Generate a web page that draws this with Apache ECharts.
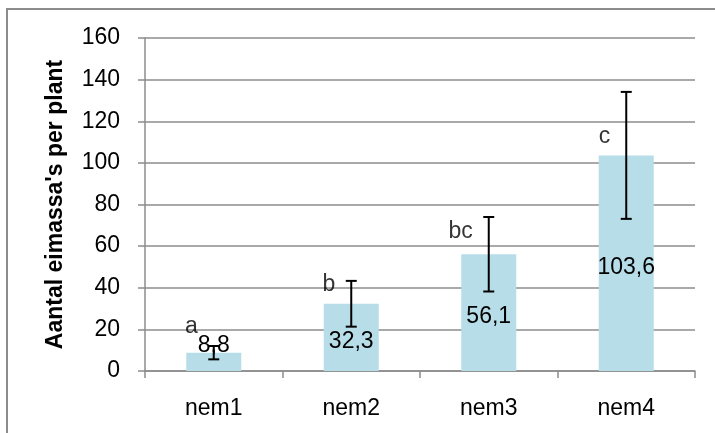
<!DOCTYPE html>
<html>
<head>
<meta charset="utf-8">
<script src="https://cdn.jsdelivr.net/npm/echarts@6/dist/echarts.min.js"></script>
<style>
html,body{margin:0;padding:0;background:#fff;}
#frame{position:absolute;left:6px;top:8px;width:709px;height:425px;border-left:2px solid #8c8c8c;border-top:2px solid #8c8c8c;box-sizing:border-box;}
#chart{position:absolute;left:0;top:0;width:715px;height:433px;}
</style>
</head>
<body>
<div id="frame"></div>
<div id="chart"></div>
<script>
const categories = ['nem1', 'nem2', 'nem3', 'nem4'];
const means = [8.8, 32.3, 56.1, 103.6];
const errors = [3.2, 11.0, 17.9, 30.5];
const letters = ['a', 'b', 'bc', 'c'];
const letterY = [21.5, 41.5, 67, 112.5];
const yTicks = [0, 20, 40, 60, 80, 100, 120, 140, 160];

const FONT = 'Liberation Sans';
const chart = echarts.init(document.getElementById('chart'), null, {renderer: 'canvas'});

const barData = means.map((v, i) => {
  const item = {value: v};
  if (i === 0) item.label = {position: 'top', distance: -4, offset: [0, 0]};
  return item;
});

chart.setOption({
  backgroundColor: 'transparent',
  animation: false,
  grid: {left: 145, right: 20, top: 38, bottom: 62, containLabel: false},
  xAxis: {
    type: 'category',
    data: categories,
    axisLine: {show: true, lineStyle: {color: '#8c8c8c', width: 1.5}},
    axisTick: {show: true, alignWithLabel: false, length: 7, lineStyle: {color: '#8c8c8c', width: 1.5}},
    axisLabel: {color: '#000', fontFamily: FONT, fontSize: 23, margin: 26}
  },
  yAxis: {
    type: 'value',
    min: yTicks[0], max: yTicks[yTicks.length - 1], interval: 20,
    name: "Aantal eimassa's per plant",
    nameLocation: 'middle',
    nameGap: 78,
    nameTextStyle: {color: '#000', fontFamily: FONT, fontSize: 23, fontWeight: 'bold'},
    axisLine: {show: true, lineStyle: {color: '#8c8c8c', width: 1.5}},
    axisTick: {show: true, length: 7, inside: false, lineStyle: {color: '#8c8c8c', width: 1.5}},
    axisLabel: {color: '#000', fontFamily: FONT, fontSize: 23, margin: 25},
    splitLine: {show: true, lineStyle: {color: '#8c8c8c', width: 1.5}}
  },
  series: [
    {
      type: 'bar',
      data: barData,
      barWidth: '40%',
      itemStyle: {color: '#b7dde8'},
      label: {show: true, position: 'inside', offset: [0, 4], color: '#000', fontFamily: FONT, fontSize: 23,
        formatter: p => String(p.value).replace('.', ',')},
      z: 2
    },
    {
      type: 'custom',
      data: means.map((m, i) => [i, m - errors[i], m + errors[i]]),
      renderItem: (params, api) => {
        const lo = api.coord([api.value(0), api.value(1)]);
        const hi = api.coord([api.value(0), api.value(2)]);
        const x = lo[0], cap = 5.5;
        const style = {stroke: '#000', lineWidth: 2};
        return {type: 'group', children: [
          {type: 'line', shape: {x1: x, y1: lo[1], x2: x, y2: hi[1]}, style},
          {type: 'line', shape: {x1: x - cap, y1: lo[1], x2: x + cap, y2: lo[1]}, style},
          {type: 'line', shape: {x1: x - cap, y1: hi[1], x2: x + cap, y2: hi[1]}, style}
        ]};
      },
      z: 5
    },
    {
      type: 'scatter',
      data: letterY.map((y, i) => [i, y]),
      symbolSize: 0,
      label: {show: true, position: 'inside', align: 'right', offset: [-16, 0], color: '#000', fontFamily: FONT, fontSize: 23,
        formatter: p => letters[p.dataIndex]},
      z: 6
    }
  ]
});
</script>
</body>
</html>
